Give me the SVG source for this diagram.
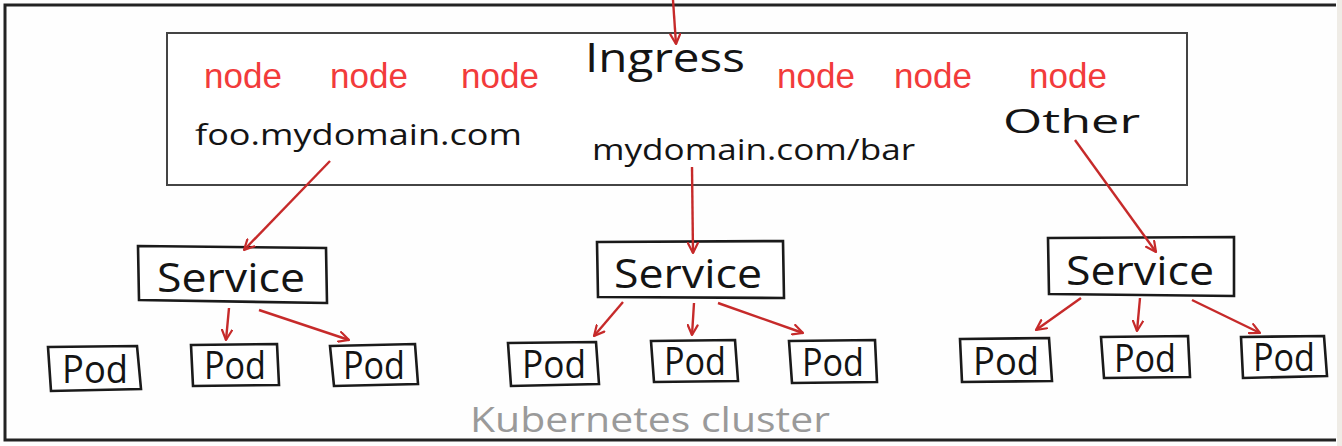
<svg xmlns="http://www.w3.org/2000/svg" width="1342" height="446" viewBox="0 0 1342 446">
<style>
.hand{font-family:"Open Sans","DejaVu Sans",sans-serif;fill:#141414;}
.node{font-family:"Liberation Sans",Arial,sans-serif;font-size:35px;fill:#f23b3b;}
.box{fill:#fff;stroke:#1a1a1a;stroke-width:2.6;}
.conn{stroke:#c62a2a;stroke-width:2.4;fill:none;marker-end:url(#ah);}
</style>
<defs>
<marker id="ah" viewBox="0 0 12 12" refX="11" refY="6" markerWidth="12" markerHeight="12" markerUnits="userSpaceOnUse" orient="auto">
<path d="M1,1 L11,6 L1,11" fill="none" stroke="#c62a2a" stroke-width="2.2" stroke-linecap="round" stroke-linejoin="round"/>
</marker>
</defs>
<rect x="0" y="0" width="1342" height="446" fill="#fefefe"/>
<rect x="1337" y="0" width="5" height="446" fill="#efece6"/>
<g id="cluster">
<path d="M1336,5 L5,5 L5,440 L1336,440" fill="none" stroke="#222" stroke-width="3"/>
<text class="hand" x="470" y="432" font-size="34" style="fill:#9a9a9a" textLength="360" lengthAdjust="spacingAndGlyphs">Kubernetes cluster</text>
</g>
<g id="ingress">
<rect x="167" y="33" width="1020" height="152" fill="#fff" stroke="#444" stroke-width="2"/>
<text class="hand" x="585" y="72" font-size="40" textLength="160" lengthAdjust="spacingAndGlyphs">Ingress</text>
<text class="node" x="204" y="88">node</text>
<text class="node" x="330" y="88">node</text>
<text class="node" x="461" y="88">node</text>
<text class="node" x="777" y="88">node</text>
<text class="node" x="894" y="88">node</text>
<text class="node" x="1029" y="88">node</text>
<text class="hand" x="195" y="145" font-size="30" textLength="327" lengthAdjust="spacingAndGlyphs">foo.mydomain.com</text>
<text class="hand" x="592" y="160" font-size="30" textLength="323" lengthAdjust="spacingAndGlyphs">mydomain.com/bar</text>
<text class="hand" x="1003" y="133" font-size="33" textLength="137" lengthAdjust="spacingAndGlyphs">Other</text>
</g>
<g id="service-1"><polygon class="box" points="138,246 326,248 327,303 139,300"/><text class="hand" x="157" y="292" font-size="40" textLength="148" lengthAdjust="spacingAndGlyphs">Service</text></g>
<g id="service-2"><polygon class="box" points="597,242 783,241 784,298 598,297"/><text class="hand" x="614" y="288" font-size="40" textLength="148" lengthAdjust="spacingAndGlyphs">Service</text></g>
<g id="service-3"><polygon class="box" points="1048,238 1234,237 1234,296 1049,294"/><text class="hand" x="1066" y="285" font-size="40" textLength="148" lengthAdjust="spacingAndGlyphs">Service</text></g>
<g id="pod-1"><polygon class="box" points="48,347 137,346 141,389 51,391"/><text class="hand" x="62" y="383" font-size="38" textLength="66" lengthAdjust="spacingAndGlyphs">Pod</text></g>
<g id="pod-2"><polygon class="box" points="191,345 277,344 279,385 193,386"/><text class="hand" x="204" y="379" font-size="38" textLength="62" lengthAdjust="spacingAndGlyphs">Pod</text></g>
<g id="pod-3"><polygon class="box" points="330,346 415,344 418,384 334,386"/><text class="hand" x="343" y="379" font-size="38" textLength="62" lengthAdjust="spacingAndGlyphs">Pod</text></g>
<g id="pod-4"><polygon class="box" points="508,343 596,342 599,384 511,386"/><text class="hand" x="522" y="378" font-size="38" textLength="64" lengthAdjust="spacingAndGlyphs">Pod</text></g>
<g id="pod-5"><polygon class="box" points="651,341 735,340 738,381 654,382"/><text class="hand" x="664" y="375" font-size="38" textLength="62" lengthAdjust="spacingAndGlyphs">Pod</text></g>
<g id="pod-6"><polygon class="box" points="789,341 875,340 877,382 792,383"/><text class="hand" x="802" y="376" font-size="38" textLength="62" lengthAdjust="spacingAndGlyphs">Pod</text></g>
<g id="pod-7"><polygon class="box" points="960,339 1049,338 1052,381 962,382"/><text class="hand" x="973" y="375" font-size="38" textLength="66" lengthAdjust="spacingAndGlyphs">Pod</text></g>
<g id="pod-8"><polygon class="box" points="1101,337 1188,336 1190,377 1104,378"/><text class="hand" x="1114" y="372" font-size="38" textLength="62" lengthAdjust="spacingAndGlyphs">Pod</text></g>
<g id="pod-9"><polygon class="box" points="1241,337 1324,336 1327,376 1243,378"/><text class="hand" x="1253" y="371" font-size="38" textLength="62" lengthAdjust="spacingAndGlyphs">Pod</text></g>
<g id="connectors">
<path class="conn" d="M673,0 L676,44"/>
<path class="conn" d="M330,161 L244,250"/>
<path class="conn" d="M692,167 L693,253"/>
<path class="conn" d="M1075,140 L1156,252"/>
<path class="conn" d="M229,308 L226,340"/>
<path class="conn" d="M259,310 L349,340"/>
<path class="conn" d="M623,302 L594,336"/>
<path class="conn" d="M694,303 L692,335"/>
<path class="conn" d="M718,303 L803,333"/>
<path class="conn" d="M1081,298 L1036,330"/>
<path class="conn" d="M1140,298 L1137,331"/>
<path class="conn" d="M1192,300 L1260,333"/>
</g>
</svg>
